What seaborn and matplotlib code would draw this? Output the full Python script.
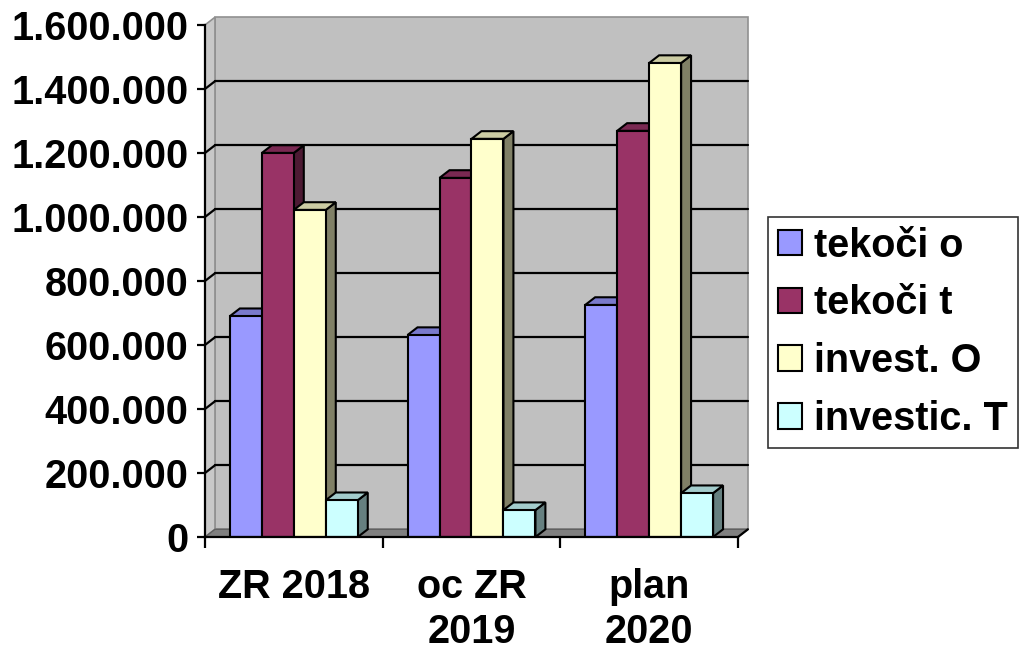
import matplotlib.pyplot as plt
import numpy as np
import pandas as pd
import seaborn as sns
from matplotlib.patches import Polygon
from matplotlib.ticker import FuncFormatter

# data
categories = ["ZR 2018", "oc ZR\n2019", "plan\n2020"]
series = ["tekoči o", "tekoči t", "invest. O", "investic. T"]
tekoci_o = [690000, 631000, 725000]
tekoci_t = [1200000, 1122000, 1269000]
invest_o = [1022000, 1244000, 1481000]
investic_t = [115000, 84000, 137000]

front_colors = ["#9999FF", "#993366", "#FFFFCC", "#CCFFFF"]
top_colors = ["#7A7ACC", "#7A2952", "#CCCCA3", "#A3CCCC"]
side_colors = ["#4D4D80", "#4D1A33", "#808066", "#668080"]

YMAX = 1600000
DX = 0.056      # depth offset in category units
DY = 24000      # depth offset in value units
FS = 28.5

df = pd.DataFrame({
    "period": np.repeat(categories, 4),
    "series": series * 3,
    "value": [v for trio in zip(tekoci_o, tekoci_t, invest_o, investic_t) for v in trio],
})

sns.set_style("white")
plt.rcParams["font.family"] = ["Liberation Sans", "DejaVu Sans"]
plt.rcParams["font.weight"] = "bold"
plt.rcParams["text.color"] = "black"
plt.rcParams["xtick.color"] = "black"
plt.rcParams["ytick.color"] = "black"

fig = plt.figure(figsize=(10.2, 6.49), dpi=100)
ax = fig.add_axes([0.201, 0.1726, 0.5225, 0.789])

sns.barplot(data=df, x="period", y="value", hue="series", hue_order=series,
            palette=front_colors, width=0.72, edgecolor="black", linewidth=1.5,
            saturation=1, ax=ax, zorder=3)

x0, x1 = -0.5, 2.5
ax.set_xlim(x0, x1)
ax.set_ylim(0, YMAX)

# walls and floor
ax.add_patch(Polygon([(x0 + DX, DY), (x1 + DX, DY), (x1 + DX, YMAX + DY), (x0 + DX, YMAX + DY)],
                     closed=True, facecolor="#C0C0C0", edgecolor="#909090", lw=1.2,
                     zorder=0.5, clip_on=False))
ax.add_patch(Polygon([(x0, 0), (x0 + DX, DY), (x0 + DX, YMAX + DY), (x0, YMAX)],
                     closed=True, facecolor="#C8C8C8", edgecolor="#909090", lw=1.2,
                     zorder=0.6, clip_on=False))
ax.add_patch(Polygon([(x0, 0), (x1, 0), (x1 + DX, DY), (x0 + DX, DY)],
                     closed=True, facecolor="#808080", edgecolor="#606060", lw=1,
                     zorder=0.7, clip_on=False))

# gridlines on back wall and side wall
for yv in range(200000, YMAX, 200000):
    ax.plot([x0 + DX, x1 + DX], [yv + DY, yv + DY], color="black", lw=1.6,
            zorder=1, clip_on=False)
    ax.plot([x0, x0 + DX], [yv, yv + DY], color="black", lw=1.6, zorder=1, clip_on=False)
ax.plot([x1, x1 + DX], [0, DY], color="black", lw=1.6, zorder=1, clip_on=False)

# 3D faces for each bar
for h, cont in enumerate(ax.containers):
    for p in cont.patches:
        bx, bw, bh = p.get_x(), p.get_width(), p.get_height()
        z = 3 + h * 0.1
        p.set_zorder(z + 0.05)
        ax.add_patch(Polygon([(bx + bw, 0), (bx + bw + DX, DY), (bx + bw + DX, bh + DY), (bx + bw, bh)],
                             closed=True, facecolor=side_colors[h], edgecolor="black",
                             lw=1.5, zorder=z, clip_on=False))
        ax.add_patch(Polygon([(bx, bh), (bx + DX, bh + DY), (bx + bw + DX, bh + DY), (bx + bw, bh)],
                             closed=True, facecolor=top_colors[h], edgecolor="black",
                             lw=1.5, zorder=z, clip_on=False))

# axes styling
for s in ["top", "right"]:
    ax.spines[s].set_visible(False)
for s in ["left", "bottom"]:
    ax.spines[s].set_color("black")
    ax.spines[s].set_linewidth(1.6)
    ax.spines[s].set_zorder(5)

ax.set_yticks(range(0, YMAX + 1, 200000))
ax.yaxis.set_major_formatter(FuncFormatter(lambda v, _: f"{int(v):,}".replace(",", ".")))
ax.tick_params(axis="y", direction="out", length=6, width=1.6, pad=6,
               labelsize=FS, left=True)
ax.set_xticks([0, 1, 2])
ax.set_xticklabels(categories, linespacing=1.25)
ax.set_xticks([-0.5, 0.5, 1.5, 2.5], minor=True)
ax.tick_params(axis="x", which="major", length=0, pad=22, labelsize=FS)
ax.tick_params(axis="x", which="minor", direction="out", length=8, width=1.6, bottom=True)
for lab in ax.get_xticklabels() + ax.get_yticklabels():
    lab.set_fontweight("bold")
ax.set_xlabel("")
ax.set_ylabel("")

handles, labels = ax.get_legend_handles_labels()
ax.get_legend().remove()
leg = fig.legend(handles, labels, loc="center left", bbox_to_anchor=(0.753, 0.488),
                 prop={"weight": "bold", "size": FS},
                 handlelength=0.62, handleheight=0.62, handletextpad=0.3,
                 labelspacing=0.5, borderpad=0.25, borderaxespad=0,
                 frameon=True, fancybox=False, edgecolor="black")
leg.get_frame().set_linewidth(1.2)
for hnd in leg.legend_handles:
    hnd.set_edgecolor("black")
    hnd.set_linewidth(1.5)

fig.savefig("out.png", dpi=100)
